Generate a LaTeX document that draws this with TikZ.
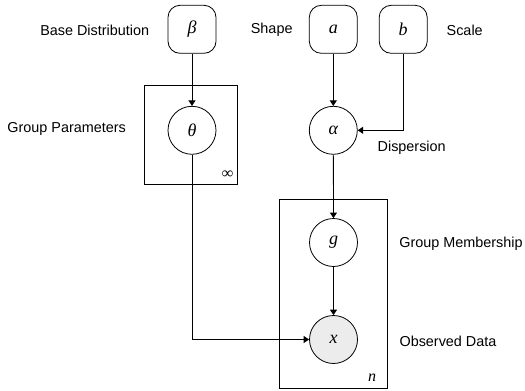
\documentclass[tikz,border=0pt]{standalone}
\usepackage{fontspec}
\setmainfont{Liberation Sans}
\newfontfamily\varfont{Liberation Serif}
\usetikzlibrary{arrows.meta}
\tikzset{
  every picture/.style={x=1pt,y=-1pt},
  line/.style={draw=black, line width=0.8pt},
  arr/.style={line, -{Triangle[length=5.5pt,width=7pt]}},
  hyper/.style={line, rounded corners=12pt, minimum size=48pt, inner sep=0pt, font=\varfont\itshape\fontsize{18}{20}\selectfont},
  var/.style={line, circle, minimum size=48pt, inner sep=0pt, font=\varfont\itshape\fontsize{18}{20}\selectfont},
  obs/.style={var, fill={rgb,255:red,236;green,236;blue,236}},
  plate/.style={line},
  lbl/.style={font=\fontsize{14.4}{17}\selectfont, inner sep=0pt},
  platelbl/.style={font=\varfont\itshape\fontsize{16}{18}\selectfont, inner sep=0pt}
}
\begin{document}
\begin{tikzpicture}
\useasboundingbox (0,0) rectangle (525,391);
% plates
\draw[plate] (144.3,85.7) rectangle (237.7,184.3);
\draw[plate] (279.3,199) rectangle (387.7,388.3);
\node[platelbl] (inf) at (227.7,174.5) {∞};
\node[platelbl] (nlbl) at (372,378) {n};
% nodes
\node[hyper] (beta) at (192,29.3) {β};
\node[hyper] (a) at (333.3,29.3) {a};
\node[hyper] (b) at (403.2,29.3) {b};
\node[var] (theta) at (192,130.3) {θ};
\node[var] (alpha) at (333.3,130.3) {α};
\node[var] (g) at (333.5,242.5) {g};
\node[obs] (x) at (333.5,339.5) {x};
% labels
\node[lbl] (l1) at (94.7,30) {Base Distribution};
\node[lbl] (l2) at (271.7,29.5) {Shape};
\node[lbl] (l3) at (464.7,30) {Scale};
\node[lbl] (l4) at (66.7,128.5) {Group Parameters};
\node[lbl] (l5) at (411.7,147.5) {Dispersion};
\node[lbl] (l6) at (461,243.3) {Group Membership};
\node[lbl] (l7) at (448,341.7) {Observed Data};
% edges
\draw[arr] (beta) -- (theta);
\draw[arr] (a) -- (alpha);
\draw[arr] (b.south) |- (alpha.east);
\draw[arr] (alpha) -- (g);
\draw[arr] (g) -- (x);
\draw[arr] (theta.south) |- (x.west);
\end{tikzpicture}
\end{document}
